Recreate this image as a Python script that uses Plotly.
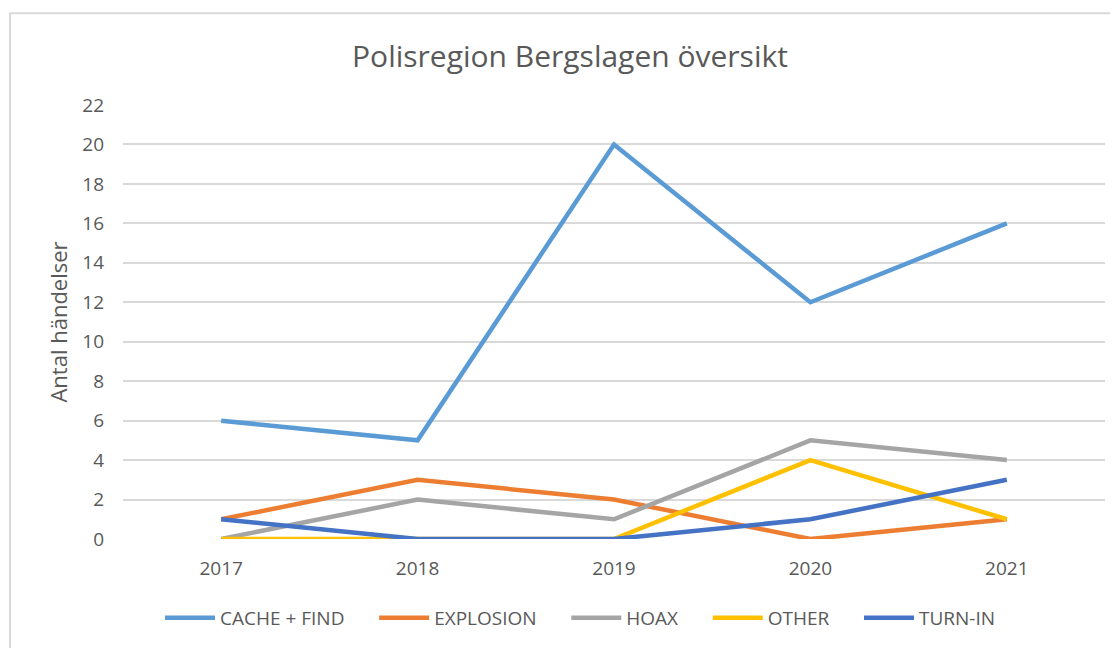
import plotly.graph_objects as go

years = ["2017", "2018", "2019", "2020", "2021"]
cache_find = [6, 5, 20, 12, 16]
explosion = [1, 3, 2, 0, 1]
hoax = [0, 2, 1, 5, 4]
other = [0, 0, 0, 4, 1]
turn_in = [1, 0, 0, 1, 3]

series_names = ["CACHE + FIND", "EXPLOSION", "HOAX", "OTHER", "TURN-IN"]
series_values = [cache_find, explosion, hoax, other, turn_in]
colors = ["#5B9BD5", "#ED7D31", "#A5A5A5", "#FFC000", "#4472C4"]

FONT = "Open Sans"
OFF = 8  # page body margin
W, H = 1110, 640
L = 123 - OFF
T = 105 - OFF
R = W - (1105 - OFF)
B = H - (540 - OFF)
PW = W - L - R
PH = H - T - B

PAD = "\u00a0" * 5

fig = go.Figure()
for name, vals, col in zip(series_names, series_values, colors):
    fig.add_trace(go.Scatter(x=years, y=vals, name=name + PAD, mode="lines",
                             line=dict(color=col, width=4.5)))

fig.update_layout(
    width=W, height=H,
    margin=dict(l=L, r=R, t=T, b=B),
    paper_bgcolor="white", plot_bgcolor="white",
    font=dict(family=FONT, color="#595959", size=19),
    title=dict(text="Polisregion Bergslagen översikt", x=(570 - OFF) / W,
               xref="container", xanchor="center",
               y=1 - 48 / H, yanchor="middle",
               font=dict(family=FONT, size=30, color="#595959")),
    xaxis=dict(type="category", range=[-0.5, 4.5], showgrid=False, zeroline=False,
               showline=False, ticks="", tickfont=dict(size=19, color="#595959"),
               ticklabelstandoff=16),
    yaxis=dict(range=[0, 22], dtick=2, showgrid=True, gridcolor="#D9D9D9", gridwidth=1.5,
               zeroline=False, showline=False, ticks="",
               tickfont=dict(size=19, color="#595959"), ticklabelstandoff=18,
               title=dict(text="Antal händelser", font=dict(size=22, color="#595959"), standoff=8)),
    legend=dict(orientation="h", x=(160 - OFF - L) / PW, xanchor="left",
                y=-(618 - 540) / PH, yanchor="middle", itemwidth=50,
                font=dict(size=19, color="#595959"), tracegroupgap=0),
    showlegend=True,
    shapes=[dict(type="rect", xref="paper", yref="paper",
                 x0=(10 - OFF - L) / PW, x1=(W + 20 - L) / PW,
                 y0=-(H + 20 - (H - B)) / PH, y1=(H - B - (13 - OFF)) / PH,
                 line=dict(color="#D9D9D9", width=2), fillcolor="rgba(0,0,0,0)", layer="below")],
)

fig.write_html("out.html")
